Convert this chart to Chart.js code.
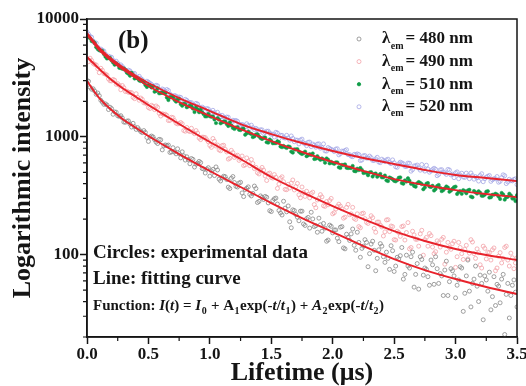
<!DOCTYPE html>
<html>
<head>
<meta charset="utf-8">
<script src="https://cdn.jsdelivr.net/npm/chart.js@4.4.1/dist/chart.umd.min.js"></script>
<style>
  html, body { margin: 0; padding: 0; background: #fff; }
  #wrap { width: 526px; height: 386px; }
</style>
</head>
<body>
<div id="wrap"><canvas id="decay" width="526" height="386"></canvas></div>
<script>
// sampling times of the measured decays (µs)
const times = [
  0, 0.025, 0.05, 0.075, 0.1, 0.125, 0.15, 0.175, 0.2, 0.225,
  0.25, 0.275, 0.3, 0.325, 0.35, 0.375, 0.4, 0.425, 0.45, 0.475,
  0.5, 0.525, 0.55, 0.575, 0.6, 0.625, 0.65, 0.675, 0.7, 0.725,
  0.75, 0.775, 0.8, 0.825, 0.85, 0.875, 0.9, 0.925, 0.95, 0.975,
  1, 1.025, 1.05, 1.075, 1.1, 1.125, 1.15, 1.175, 1.2, 1.225,
  1.25, 1.275, 1.3, 1.325, 1.35, 1.375, 1.4, 1.425, 1.45, 1.475,
  1.5, 1.525, 1.55, 1.575, 1.6, 1.625, 1.65, 1.675, 1.7, 1.725,
  1.75, 1.775, 1.8, 1.825, 1.85, 1.875, 1.9, 1.925, 1.95, 1.975,
  2, 2.025, 2.05, 2.075, 2.1, 2.125, 2.15, 2.175, 2.2, 2.225,
  2.25, 2.275, 2.3, 2.325, 2.35, 2.375, 2.4, 2.425, 2.45, 2.475,
  2.5, 2.525, 2.55, 2.575, 2.6, 2.625, 2.65, 2.675, 2.7, 2.725,
  2.75, 2.775, 2.8, 2.825, 2.85, 2.875, 2.9, 2.925, 2.95, 2.975,
  3, 3.025, 3.05, 3.075, 3.1, 3.125, 3.15, 3.175, 3.2, 3.225,
  3.25, 3.275, 3.3, 3.325, 3.35, 3.375, 3.4, 3.425, 3.45, 3.475,
  3.5
];
const times2 = [
  0.0125, 0.0375, 0.0625, 0.0875, 0.1125, 0.1375, 0.1625, 0.1875, 0.2125, 0.2375,
  0.2625, 0.2875, 0.3125, 0.3375, 0.3625, 0.3875, 0.4125, 0.4375, 0.4625, 0.4875,
  0.5125, 0.5375, 0.5625, 0.5875, 0.6125, 0.6375, 0.6625, 0.6875, 0.7125, 0.7375,
  0.7625, 0.7875, 0.8125, 0.8375, 0.8625, 0.8875, 0.9125, 0.9375, 0.9625, 0.9875,
  1.0125, 1.0375, 1.0625, 1.0875, 1.1125, 1.1375, 1.1625, 1.1875, 1.2125, 1.2375,
  1.2625, 1.2875, 1.3125, 1.3375, 1.3625, 1.3875, 1.4125, 1.4375, 1.4625, 1.4875,
  1.5125, 1.5375, 1.5625, 1.5875, 1.6125, 1.6375, 1.6625, 1.6875, 1.7125, 1.7375,
  1.7625, 1.7875, 1.8125, 1.8375, 1.8625, 1.8875, 1.9125, 1.9375, 1.9625, 1.9875,
  2.0125, 2.0375, 2.0625, 2.0875, 2.1125, 2.1375, 2.1625, 2.1875, 2.2125, 2.2375,
  2.2625, 2.2875, 2.3125, 2.3375, 2.3625, 2.3875, 2.4125, 2.4375, 2.4625, 2.4875,
  2.5125, 2.5375, 2.5625, 2.5875, 2.6125, 2.6375, 2.6625, 2.6875, 2.7125, 2.7375,
  2.7625, 2.7875, 2.8125, 2.8375, 2.8625, 2.8875, 2.9125, 2.9375, 2.9625, 2.9875,
  3.0125, 3.0375, 3.0625, 3.0875, 3.1125, 3.1375, 3.1625, 3.1875, 3.2125, 3.2375,
  3.2625, 3.2875, 3.3125, 3.3375, 3.3625, 3.3875, 3.4125, 3.4375, 3.4625, 3.4875
];

// measured intensities (circles), on times and times2
const s480 = [
  3004, 2636, 2556, 2294, 2231, 1971, 1905, 1705, 1735, 1627,
  1509, 1512, 1335, 1360, 1281, 1302, 1156, 1149, 1086, 1089,
  914, 1015, 947, 877, 944, 838, 843, 737, 808, 717,
  721, 746, 635, 641, 654, 554, 598, 604, 534, 533,
  464, 529, 555, 437, 448, 459, 374, 445, 409, 375,
  411, 311, 366, 325, 331, 364, 283, 306, 312, 275,
  232, 298, 269, 226, 284, 231, 190, 240, 219, 194,
  234, 177, 207, 229, 173, 155, 179, 184, 130, 178,
  153, 162, 129, 173, 112, 140, 150, 120, 155, 95,
  118, 127, 102, 130, 73, 110, 118, 86, 93, 119,
  72, 95, 98, 62, 99, 77, 105, 68, 51, 91,
  77, 65, 90, 56, 76, 69, 45, 88, 59, 73,
  43, 61, 77, 47, 90, 36, 62, 54, 67, 28,
  61, 71, 44, 37, 54, 62, 21, 57, 45, 61,
  36
];
const s480b = [
  2962, 2533, 2445, 2354, 2043, 1886, 1862, 1782, 1554, 1617,
  1491, 1445, 1329, 1365, 1211, 1218, 1196, 1107, 1130, 989,
  998, 998, 902, 952, 775, 853, 851, 744, 744, 791,
  663, 689, 677, 591, 643, 586, 619, 538, 493, 547,
  513, 469, 523, 422, 463, 434, 364, 460, 380, 405,
  334, 357, 376, 315, 382, 277, 315, 294, 307, 236,
  288, 302, 237, 217, 248, 259, 169, 237, 208, 234,
  182, 202, 168, 201, 176, 204, 158, 168, 133, 174,
  162, 138, 171, 114, 149, 132, 165, 109, 127, 113,
  134, 79, 123, 109, 93, 124, 96, 105, 75, 108,
  80, 92, 115, 68, 80, 96, 53, 84, 96, 67,
  75, 55, 82, 96, 57, 66, 74, 45, 76, 66,
  55, 79, 33, 66, 49, 57, 80, 40, 57, 66,
  49, 34, 65, 56, 39, 68, 46, 29, 55, 48
];
const s490 = [
  4628, 4647, 4206, 4074, 3503, 3673, 3410, 3097, 2980, 3026,
  2829, 2507, 2614, 2441, 2382, 2162, 2321, 2044, 2079, 1936,
  1773, 1851, 1701, 1779, 1502, 1552, 1520, 1378, 1455, 1305,
  1294, 1290, 1116, 1123, 1182, 1064, 1076, 947, 992, 946,
  843, 968, 835, 774, 843, 783, 647, 768, 668, 698,
  648, 570, 662, 569, 593, 551, 484, 550, 466, 486,
  452, 478, 365, 445, 416, 356, 368, 430, 378, 322,
  375, 312, 325, 331, 266, 291, 323, 260, 282, 288,
  222, 244, 268, 245, 208, 267, 222, 203, 222, 169,
  225, 188, 197, 206, 155, 189, 172, 156, 198, 175,
  134, 158, 143, 175, 154, 112, 158, 135, 118, 161,
  134, 118, 145, 102, 131, 116, 140, 105, 115, 124,
  78, 127, 102, 111, 92, 134, 102, 112, 82, 118,
  92, 104, 110, 73, 97, 85, 115, 90, 103, 76,
  94
];
const s490b = [
  4345, 4451, 4111, 3784, 3819, 3442, 3341, 2988, 3068, 2791,
  2735, 2727, 2422, 2387, 2371, 2108, 2162, 2134, 1945, 1905,
  1740, 1818, 1827, 1584, 1570, 1554, 1375, 1465, 1374, 1287,
  1323, 1131, 1200, 1108, 1096, 1130, 976, 994, 986, 908,
  814, 917, 852, 762, 848, 744, 658, 735, 686, 631,
  687, 578, 615, 642, 537, 496, 525, 522, 426, 492,
  446, 454, 397, 458, 358, 395, 404, 354, 402, 304,
  336, 345, 303, 339, 250, 301, 309, 257, 265, 300,
  227, 256, 258, 204, 252, 218, 252, 199, 173, 223,
  202, 184, 214, 167, 189, 178, 144, 197, 157, 173,
  133, 154, 173, 133, 187, 115, 147, 135, 150, 99,
  140, 151, 116, 106, 126, 135, 83, 127, 111, 130,
  96, 115, 91, 120, 103, 128, 93, 104, 77, 113,
  105, 90, 114, 77, 104, 93, 118, 80, 94, 85
];
const s510 = [
  7008, 6852, 6456, 5765, 5435, 5357, 4792, 4671, 4453, 4093,
  4103, 3833, 3802, 3500, 3298, 3349, 3170, 3006, 2996, 2752,
  2741, 2625, 2414, 2583, 2353, 2364, 2157, 2169, 2171, 1988,
  2104, 1835, 1891, 1813, 1817, 1623, 1705, 1698, 1557, 1492,
  1493, 1486, 1308, 1400, 1328, 1351, 1236, 1250, 1167, 1206,
  1141, 1172, 1072, 1073, 994, 1048, 1009, 959, 986, 892,
  924, 885, 916, 828, 837, 805, 822, 734, 781, 748,
  714, 749, 697, 700, 648, 685, 638, 641, 656, 595,
  598, 607, 551, 578, 584, 543, 543, 513, 536, 544,
  493, 496, 498, 460, 488, 471, 453, 469, 421, 445,
  423, 429, 453, 400, 417, 424, 400, 377, 413, 397,
  372, 405, 375, 350, 382, 369, 353, 379, 342, 362,
  378, 340, 328, 346, 351, 311, 347, 330, 335, 316,
  342, 305, 322, 329, 311, 334, 293, 310, 318, 299,
  320
];
const s510b = [
  7085, 6492, 6252, 5551, 5367, 5046, 4619, 4676, 4272, 4187,
  3848, 3774, 3701, 3426, 3496, 3123, 3122, 2972, 2916, 2649,
  2707, 2685, 2452, 2340, 2367, 2342, 2052, 2181, 2058, 2078,
  1895, 1912, 1783, 1837, 1735, 1774, 1618, 1613, 1490, 1564,
  1479, 1403, 1440, 1301, 1344, 1283, 1324, 1190, 1200, 1148,
  1169, 1041, 1106, 1058, 1008, 1052, 977, 978, 901, 949,
  881, 884, 902, 817, 818, 829, 749, 783, 786, 728,
  727, 685, 713, 723, 653, 655, 656, 603, 638, 613,
  590, 607, 545, 575, 546, 547, 566, 510, 522, 524,
  497, 472, 502, 484, 458, 484, 453, 427, 452, 437,
  419, 449, 405, 427, 445, 399, 383, 403, 406, 359,
  400, 379, 384, 361, 390, 346, 365, 371, 350, 374,
  327, 346, 353, 332, 355, 307, 338, 345, 316, 323,
  346, 307, 323, 324, 297, 324, 307, 329, 299, 285
];
const s520 = [
  7758, 7110, 6516, 6252, 5470, 5431, 5034, 4828, 4731, 4282,
  4207, 4082, 3814, 3587, 3627, 3440, 3223, 3266, 3053, 2866,
  2912, 2786, 2652, 2706, 2481, 2509, 2520, 2302, 2196, 2214,
  2178, 1982, 2080, 1973, 1952, 1842, 1897, 1729, 1751, 1736,
  1639, 1679, 1515, 1534, 1522, 1436, 1465, 1313, 1365, 1353,
  1255, 1253, 1291, 1178, 1196, 1181, 1102, 1145, 1090, 1117,
  1051, 997, 1076, 1029, 986, 1030, 936, 969, 940, 870,
  956, 877, 900, 826, 849, 867, 801, 871, 757, 796,
  771, 787, 703, 757, 766, 707, 685, 710, 716, 629,
  690, 661, 686, 631, 650, 611, 646, 617, 646, 592,
  602, 551, 609, 590, 560, 596, 527, 567, 543, 582,
  512, 533, 514, 541, 468, 524, 503, 480, 523, 482,
  494, 441, 491, 453, 467, 493, 437, 451, 470, 416,
  455, 470, 432, 441, 412, 450, 468, 414, 424, 435,
  393
];
const s520b = [
  7425, 7010, 6261, 5760, 5559, 5341, 4734, 4768, 4459, 4387,
  4026, 3948, 3681, 3678, 3467, 3448, 3182, 3124, 2917, 2964,
  2849, 2705, 2740, 2499, 2547, 2430, 2472, 2246, 2242, 2145,
  2161, 1952, 2039, 1953, 1866, 1922, 1796, 1787, 1660, 1723,
  1610, 1602, 1616, 1477, 1470, 1472, 1344, 1383, 1377, 1285,
  1275, 1210, 1247, 1256, 1152, 1150, 1148, 1067, 1115, 1075,
  1053, 1093, 968, 1030, 975, 978, 1017, 909, 935, 940,
  887, 841, 902, 868, 817, 872, 811, 760, 811, 782,
  750, 792, 721, 752, 777, 705, 679, 705, 707, 635,
  693, 661, 666, 630, 670, 604, 630, 637, 603, 637,
  557, 590, 600, 561, 599, 511, 566, 576, 521, 532,
  574, 501, 528, 530, 479, 526, 494, 529, 475, 450,
  504, 474, 456, 492, 441, 469, 459, 421, 486, 441,
  462, 419, 441, 460, 419, 476, 401, 436, 423, 440
];

// fitted curves (red lines)
const fitTimes = [0, 0.05, 0.1, 0.2, 0.3, 0.4, 0.5, 0.75, 1, 1.25, 1.5, 1.75, 2, 2.25, 2.5, 2.75, 3, 3.25, 3.5];
const fit480 = [2977, 2496, 2135, 1689, 1389, 1188, 1016, 714, 513, 375, 274, 204.5, 155.6, 118.3, 91.7, 74, 62.1, 53.1, 46.3];
const fit490 = [4757, 4231, 3763, 3035, 2545, 2177, 1862, 1284, 903, 648, 456, 340, 258.5, 200.5, 158.6, 130.5, 111.6, 99.2, 90];
const fit510 = [7315, 6317, 5457, 4400, 3691, 3157, 2700, 1974, 1502, 1165, 921, 743, 611, 513, 438, 390, 353, 327, 308];
const fit520 = [7606, 6569, 5674, 4575, 3837, 3282, 2862, 2135, 1656, 1284, 1056, 886, 758, 661, 588, 523, 474, 447, 421];

const wavelengths = ['480 nm', '490 nm', '510 nm', '520 nm'];
const yMajor = [100, 1000, 10000];
const yMinor = [20, 30, 40, 50, 60, 70, 80, 90, 200, 300, 400, 500, 600, 700, 800, 900,
                2000, 3000, 4000, 5000, 6000, 7000, 8000, 9000];
const xMinor = [0.25, 0.75, 1.25, 1.75, 2.25, 2.75, 3.25];

const SERIF = "'Liberation Serif', 'Times New Roman', 'DejaVu Serif', serif";
const INK = '#151515';
const FIT_RED = '#e8222b';

const toPts = (xs, ys) => xs.map((t, i) => ({ x: t, y: ys[i] }));

function circles(label, values, values2, color, filled) {
    return {
        label: label,
        data: toPts(times, values).concat(toPts(times2, values2)),
        showLine: false,
        pointStyle: 'circle',
        pointRadius: filled ? 1.7 : 2,
        pointBorderWidth: filled ? 0.5 : 0.8,
        pointBorderColor: color,
        pointBackgroundColor: filled ? color : 'rgba(0,0,0,0)',
        order: 2
    };
}

function fitLine(values) {
    return {
        label: 'fit',
        data: toPts(fitTimes, values),
        showLine: true,
        borderColor: FIT_RED,
        borderWidth: 1.9,
        pointRadius: 0,
        cubicInterpolationMode: 'monotone',
        fill: false,
        order: 1
    };
}

// legend, notes, frame and minor ticks
const decorations = {
    id: 'decorations',
    afterDraw(chart) {
        const { ctx, chartArea: a, scales: { x, y } } = chart;
        ctx.save();

        ctx.strokeStyle = INK;
        ctx.lineWidth = 1.5;
        ctx.strokeRect(a.left, a.top, a.right - a.left, a.bottom - a.top);

        ctx.lineWidth = 1.2;
        ctx.beginPath();
        xMinor.forEach(v => {
            const px = x.getPixelForValue(v);
            ctx.moveTo(px, a.bottom);
            ctx.lineTo(px, a.bottom + 4);
        });
        yMinor.forEach(v => {
            const py = y.getPixelForValue(v);
            ctx.moveTo(a.left, py);
            ctx.lineTo(a.left - 4, py);
        });
        ctx.stroke();

        ctx.fillStyle = INK;
        ctx.textBaseline = 'middle';
        ctx.textAlign = 'left';

        // panel label
        ctx.font = `bold 25px ${SERIF}`;
        ctx.fillText('(b)', 118, 42);

        // legend
        const series = chart.data.datasets.filter(d => !d.showLine);
        series.forEach((ds, i) => {
            const ry = 39 + i * 22.6;
            ctx.beginPath();
            ctx.arc(359, ry, ds.pointRadius, 0, Math.PI * 2);
            ctx.lineWidth = 0.8;
            ctx.strokeStyle = ds.pointBorderColor;
            ctx.fillStyle = ds.pointBackgroundColor;
            ctx.fill();
            ctx.stroke();

            ctx.fillStyle = INK;
            ctx.font = `bold 17px ${SERIF}`;
            ctx.fillText('λ', 382, ry);
            let cx = 382 + ctx.measureText('λ').width + 0.5;
            ctx.font = `bold 10px ${SERIF}`;
            ctx.fillText('em', cx, ry + 7);
            cx += ctx.measureText('em').width + 2;
            ctx.font = `bold 17px ${SERIF}`;
            ctx.fillText('= ' + ds.label, cx, ry);
        });

        // notes
        ctx.font = `bold 19px ${SERIF}`;
        ctx.fillText('Circles: experimental data', 93, 253);
        ctx.fillText('Line: fitting curve', 93, 279);

        const parts = [
            ['Function: ', 'n'], ['I', 'i'], ['(', 'n'], ['t', 'i'], [') = ', 'n'],
            ['I', 'i'], ['0', 's'], [' + A', 'n'], ['1', 's'], ['exp(-', 'n'], ['t', 'i'],
            ['/', 'n'], ['t', 'i'], ['1', 's'], [') + ', 'n'], ['A', 'i'], ['2', 's'],
            ['exp(-', 'n'], ['t', 'i'], ['/', 'n'], ['t', 'i'], ['2', 's'], [')', 'n']
        ];
        let fx = 93;
        const fy = 306;
        parts.forEach(([txt, kind]) => {
            if (kind === 's') {
                ctx.font = `bold 10px ${SERIF}`;
                ctx.fillText(txt, fx + 0.5, fy + 5);
                fx += ctx.measureText(txt).width + 1;
            } else {
                ctx.font = (kind === 'i' ? 'italic ' : '') + `bold 15px ${SERIF}`;
                ctx.fillText(txt, fx, fy);
                fx += ctx.measureText(txt).width;
            }
        });

        ctx.restore();
    }
};

const chart = new Chart(document.getElementById('decay'), {
    type: 'scatter',
    data: {
        datasets: [
            circles(wavelengths[0], s480, s480b, '#888888', false),
            circles(wavelengths[1], s490, s490b, '#f2a2a8', false),
            circles(wavelengths[2], s510, s510b, '#0f9c48', true),
            circles(wavelengths[3], s520, s520b, '#a3a6e4', false),
            fitLine(fit480),
            fitLine(fit490),
            fitLine(fit510),
            fitLine(fit520)
        ]
    },
    options: {
        responsive: false,
        animation: false,
        events: [],
        layout: { padding: { top: 19, right: 9, bottom: 0, left: 0 } },
        plugins: {
            legend: { display: false },
            tooltip: { enabled: false }
        },
        scales: {
            x: {
                type: 'linear',
                min: 0,
                max: 3.5,
                grid: { drawOnChartArea: false, drawTicks: true, tickLength: 7, tickWidth: 1.5, tickColor: INK },
                border: { display: true, color: INK, width: 1.5 },
                ticks: {
                    stepSize: 0.5,
                    padding: 0,
                    color: INK,
                    font: { family: SERIF, size: 17, weight: 'bold' },
                    maxRotation: 0,
                    callback: v => v.toFixed(1)
                },
                title: {
                    display: true,
                    text: 'Lifetime (μs)',
                    color: INK,
                    padding: { top: 0, bottom: 0 },
                    font: { family: SERIF, size: 26, weight: 'bold', lineHeight: 1 }
                },
                afterFit: scale => {
                    scale.height = 49;
                    scale.paddingLeft = 0;
                    scale.paddingRight = 0;
                }
            },
            y: {
                type: 'logarithmic',
                min: 20,
                max: 10000,
                grid: { drawOnChartArea: false, drawTicks: true, tickLength: 7, tickWidth: 1.5, tickColor: INK },
                border: { display: true, color: INK, width: 1.5 },
                afterBuildTicks: scale => {
                    scale.ticks = yMajor.map(v => ({ value: v }));
                },
                ticks: {
                    padding: 1,
                    color: INK,
                    font: { family: SERIF, size: 17, weight: 'bold' },
                    callback: v => String(v)
                },
                title: {
                    display: true,
                    text: 'Logarithmic intensity',
                    color: INK,
                    padding: { top: 10, bottom: 0 },
                    font: { family: SERIF, size: 26, weight: 'bold', lineHeight: 1 }
                },
                afterFit: scale => {
                    scale.width = 87;
                }
            }
        }
    },
    plugins: [decorations]
});
</script>
</body>
</html>
